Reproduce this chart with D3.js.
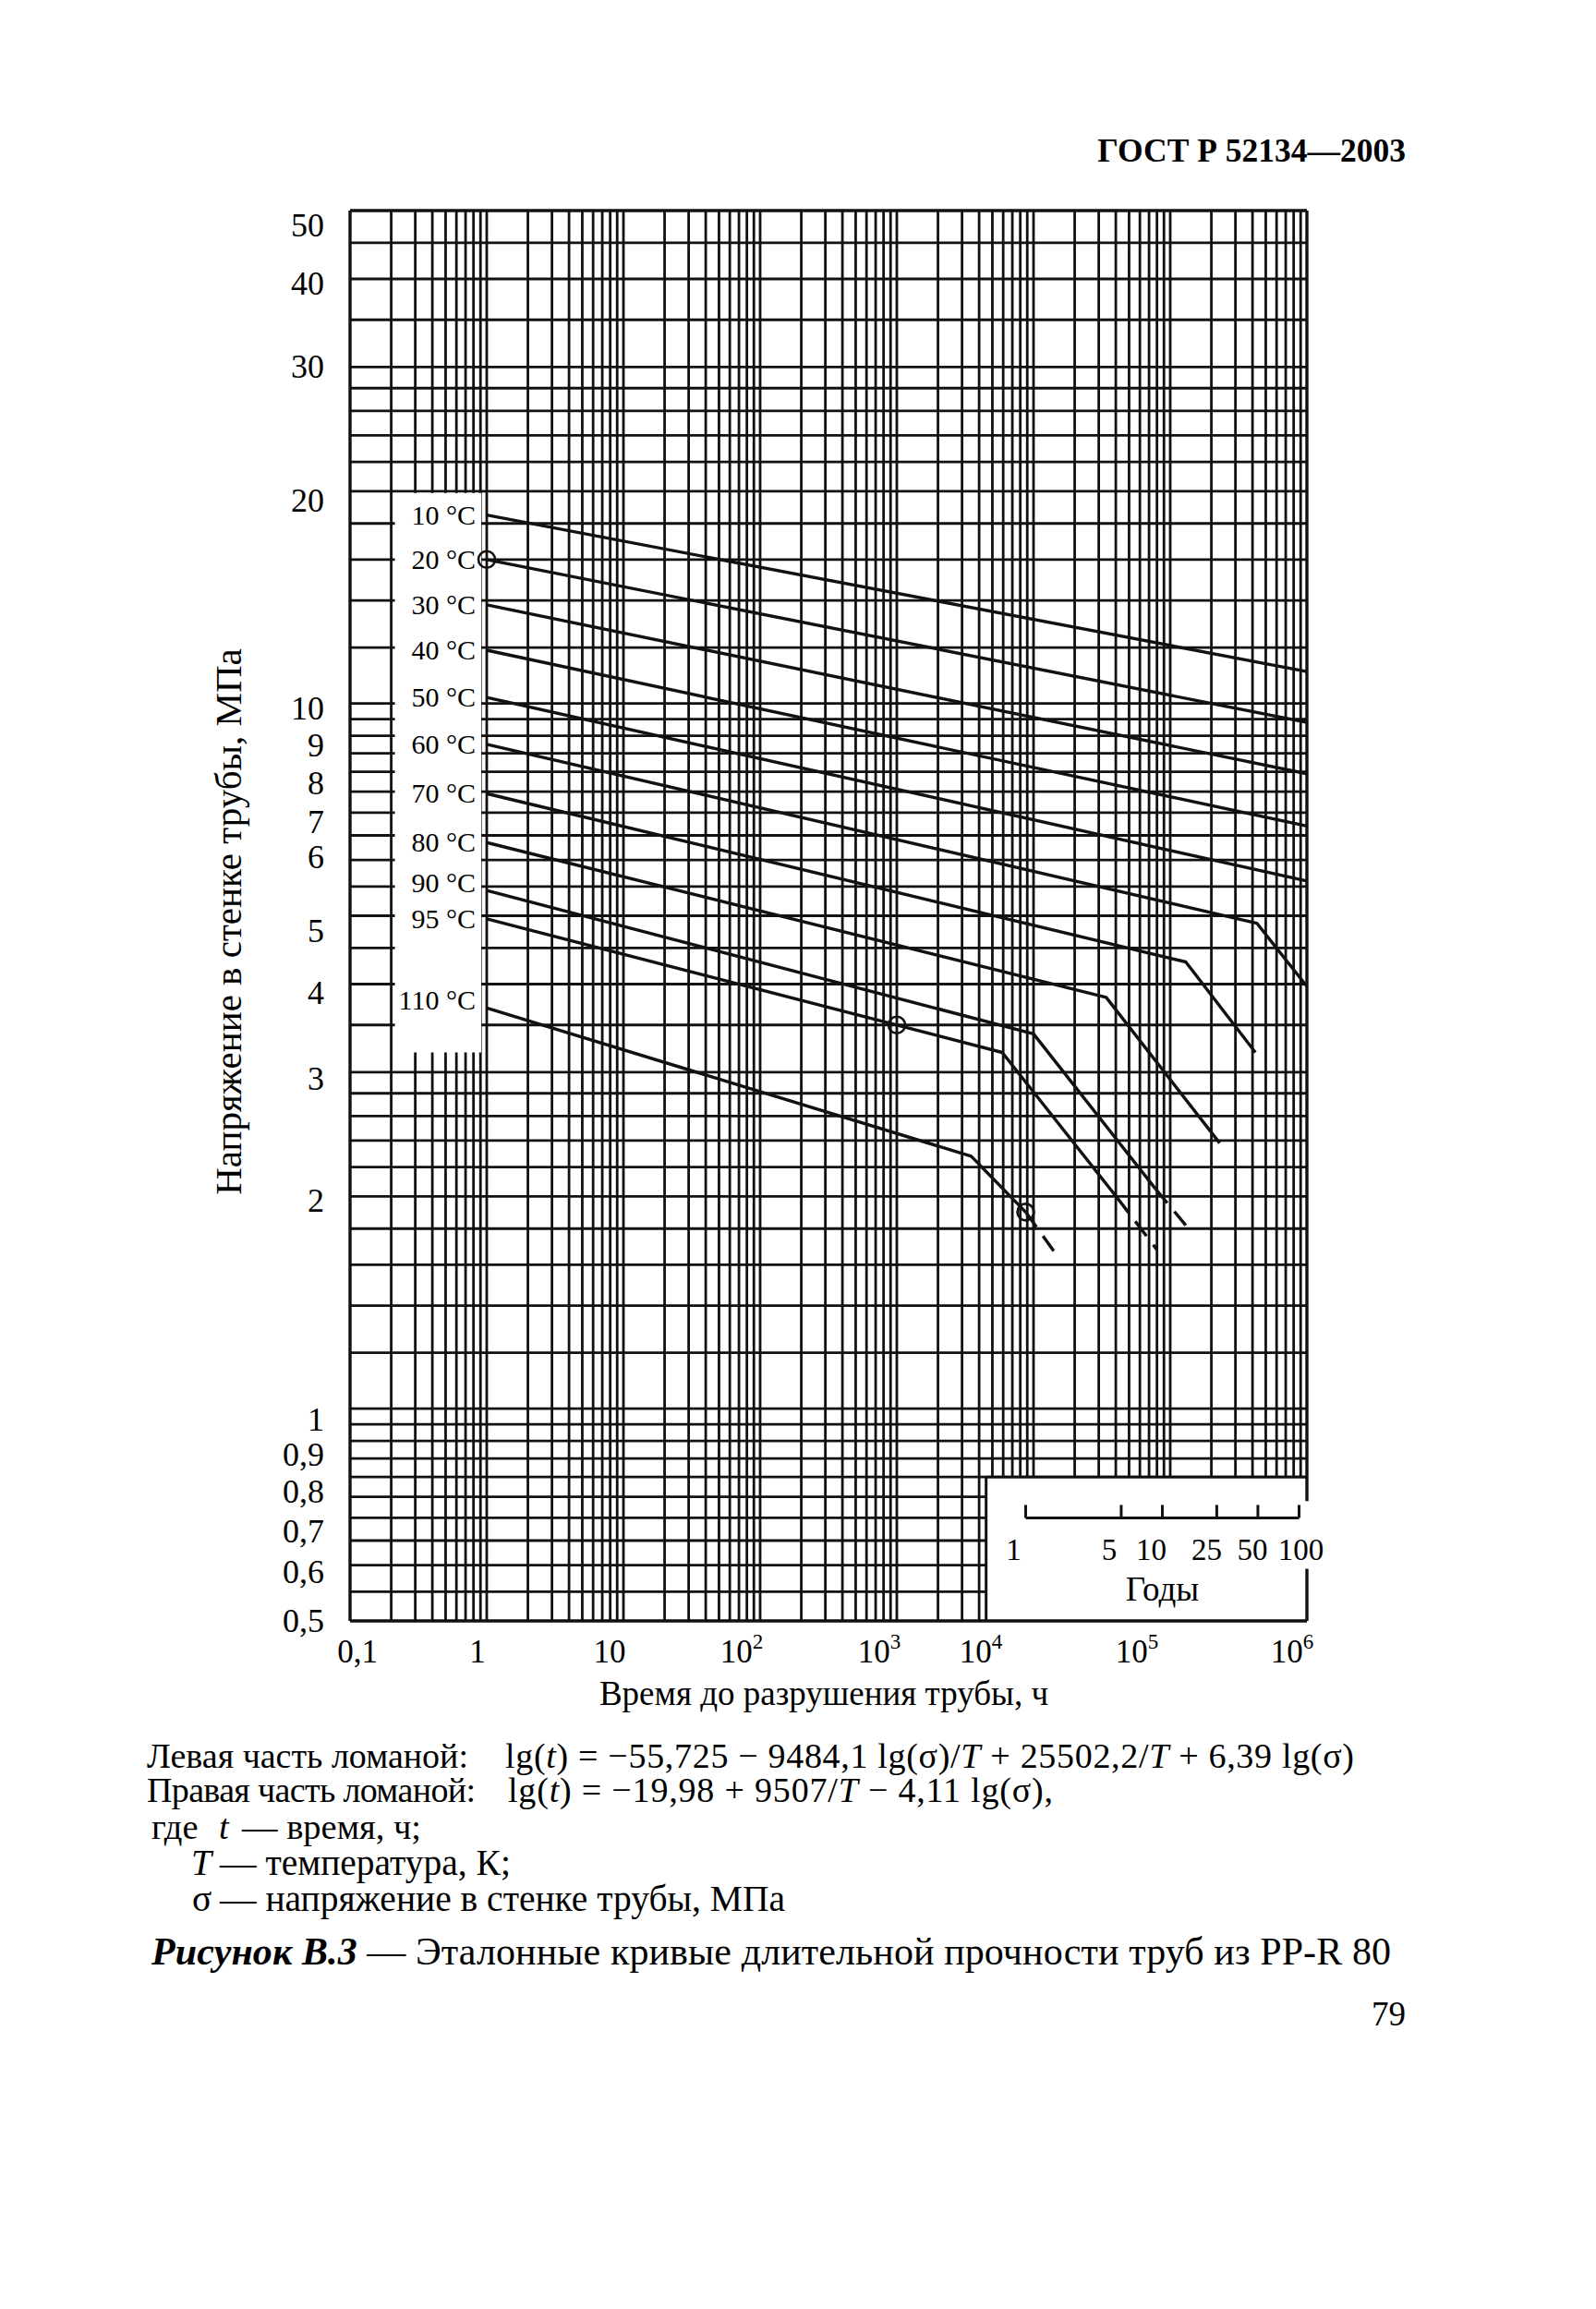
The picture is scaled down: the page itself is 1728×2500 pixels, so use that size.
<!DOCTYPE html>
<html><head><meta charset="utf-8">
<script src="https://cdn.jsdelivr.net/npm/d3@7"></script>
<style>
body{margin:0;background:#fff}
text{font-family:"Liberation Serif","Times New Roman",serif;fill:#000}
</style>
</head><body>
<svg id="chart" width="1728" height="2500"></svg>
<script>
// ---------------- data ----------------
const tempLabels = ["10 °C","20 °C","30 °C","40 °C","50 °C","60 °C","70 °C","80 °C","90 °C","95 °C","110 °C"];
// [time h, stress MPa]
const solid10  = [[1,18.5],[1e6,11.1]];
const solid20  = [[1,16.0],[1e6,9.4]];
const solid30  = [[1,13.8],[1e6,7.95]];
const solid40  = [[1,11.9],[1e6,6.7]];
const solid50  = [[1,10.2],[1e6,5.6]];
const solid60  = [[1,8.75],[4.3e5,4.88],[1e6,3.97]];
const solid70  = [[1,7.45],[1.3e5,4.3],[4.2e5,3.2]];
const solid80  = [[1,6.35],[3.4e4,3.83],[2.3e5,2.38]];
const solid90  = [[1,5.43],[1.0e4,3.4],[7.8e4,2.05]];
const dashed90 = [[7.8e4,2.05],[1.3e5,1.82]];
const solid95  = [[1,4.95],[5.9e3,3.2],[4.1e4,1.99]];
const dashed95 = [[4.1e4,1.99],[8.0e4,1.68]];
const solid110 = [[1,3.7],[3.5e3,2.28],[8760,1.9]];
const dashed110= [[8760,1.9],[1.55e4,1.63]];
const testPoints = [[1,16],[1000,3.5],[8760,1.9]];

const xTicks = [0.1,1,10,100,1e3,1e4,1e5,1e6];
const xTickBase = ["0,1","1","10","10","10","10","10","10"];
const xTickSup  = ["","","","2","3","4","5","6"];
const yTicks = [50,40,30,20,10,9,8,7,6,5,4,3,2,1,0.9,0.8,0.7,0.6,0.5];
const yTickLabels = ["50","40","30","20","10","9","8","7","6","5","4","3","2","1","0,9","0,8","0,7","0,6","0,5"];
const yearTicks = [1,5,10,25,50,100];
const hoursPerYear = 8760;

// ---------------- layout ----------------
const svg = d3.select("#chart");
const x = d3.scaleLog().domain([0.1,1e6]).range([379,1415]);
const y = d3.scaleLog().domain([0.5,50]).range([1755,228]);
const xLabelShift = [8,-10,-15,-20,-19,-57,-36,-16];
const yLabelDy = [28,17,12,22,17,22,24,22,9,28,22,19,17,24,27,28,27,19,12];
const yearLabelShift = [-13,-13,-12,-11,-6,2];
const tempLabelDy = [10,10,10,10,10,10,10,10,2,10,2];
const ink = "#111";
const gridW = 2.8;

// grid
const vGrid = [];
for (let e=-1;e<=5;e++) for (let k=1;k<=9;k++){ const v=k*Math.pow(10,e); if(v>0.1+1e-9) vGrid.push(v);}
const hGrid = [].concat(
  d3.range(0.55,1.0001,0.05), d3.range(1.2,3.0001,0.2), d3.range(3.5,10.0001,0.5),
  d3.range(12,30.001,2), [35,40,45]);

const g = svg.append("g");
g.selectAll("line.v").data(vGrid).join("line")
  .attr("x1",d=>x(d)).attr("x2",d=>x(d)).attr("y1",y(50)).attr("y2",y(0.5))
  .attr("stroke",ink).attr("stroke-width",gridW);
g.selectAll("line.h").data(hGrid).join("line")
  .attr("x1",x(0.1)).attr("x2",x(1e6)).attr("y1",d=>y(d)).attr("y2",d=>y(d))
  .attr("stroke",ink).attr("stroke-width",gridW);

// white box for the temperature labels
svg.append("rect").attr("x",x(0.2)+4).attr("y",y(20)+2)
  .attr("width",x(1)-6-(x(0.2)+4)).attr("height",y(3.2)-y(20)-2).attr("fill","#fff");
// white box for the years scale
svg.append("rect").attr("x",x(4500)).attr("y",y(0.8))
  .attr("width",x(1e6)-x(4500)).attr("height",y(0.5)-y(0.8)).attr("fill","#fff");
svg.append("line").attr("x1",x(4500)).attr("x2",x(4500)).attr("y1",y(0.8)).attr("y2",y(0.5))
  .attr("stroke",ink).attr("stroke-width",3);
svg.append("line").attr("x1",x(4500)).attr("x2",x(1e6)).attr("y1",y(0.8)).attr("y2",y(0.8))
  .attr("stroke",ink).attr("stroke-width",3);

// frame
const fr = svg.append("g").attr("stroke",ink).attr("stroke-width",3.4);
fr.append("line").attr("x1",x(0.1)).attr("x2",x(1e6)).attr("y1",y(50)).attr("y2",y(50));
fr.append("line").attr("x1",x(0.1)).attr("x2",x(1e6)).attr("y1",y(0.5)).attr("y2",y(0.5));
fr.append("line").attr("x1",x(0.1)).attr("x2",x(0.1)).attr("y1",y(50)).attr("y2",y(0.5));
fr.append("line").attr("x1",x(1e6)).attr("x2",x(1e6)).attr("y1",y(50)).attr("y2",y(0.8)+26);
fr.append("line").attr("x1",x(1e6)).attr("x2",x(1e6)).attr("y1",y(0.6)+4).attr("y2",y(0.5));

// years scale
const yearY = y(0.7);
const yr = svg.append("g").attr("stroke",ink).attr("stroke-width",3);
yr.append("line").attr("x1",x(hoursPerYear)).attr("x2",x(100*hoursPerYear)).attr("y1",yearY).attr("y2",yearY);
yr.selectAll("line.t").data(yearTicks).join("line")
  .attr("x1",d=>x(d*hoursPerYear)).attr("x2",d=>x(d*hoursPerYear))
  .attr("y1",yearY).attr("y2",yearY-14);
svg.append("g").selectAll("text").data(yearTicks).join("text")
  .attr("x",(d,i)=>x(d*hoursPerYear)+yearLabelShift[i]).attr("y",yearY+46).attr("text-anchor","middle")
  .attr("font-size",33).text(d=>d);
svg.append("text").attr("x",x(10*hoursPerYear)).attr("y",yearY+90).attr("text-anchor","middle")
  .attr("font-size",37).text("Годы");

// curves
const line = d3.line().x(d=>x(d[0])).y(d=>y(d[1]));
const solids = [solid10,solid20,solid30,solid40,solid50,solid60,solid70,solid80,solid90,solid95,solid110];
const dashes = [dashed90,dashed95,dashed110];
svg.append("g").selectAll("path").data(solids).join("path")
  .attr("d",line).attr("fill","none").attr("stroke",ink).attr("stroke-width",3.4)
  .attr("stroke-linejoin","round");
svg.append("g").selectAll("path").data(dashes).join("path")
  .attr("d",line).attr("fill","none").attr("stroke",ink).attr("stroke-width",3.4)
  .attr("stroke-dasharray","20 12");
svg.append("g").selectAll("circle").data(testPoints).join("circle")
  .attr("cx",d=>x(d[0])).attr("cy",d=>y(d[1])).attr("r",9)
  .attr("fill","none").attr("stroke",ink).attr("stroke-width",2.6);

// temperature labels
svg.append("g").selectAll("text").data(tempLabels).join("text")
  .attr("x",x(1)-12).attr("y",(d,i)=>y(solids[i][0][1])+tempLabelDy[i])
  .attr("text-anchor","end").attr("font-size",30).text(d=>d);

// axis tick labels
svg.append("g").selectAll("text").data(yTicks).join("text")
  .attr("x",351).attr("y",(d,i)=>y(d)+yLabelDy[i])
  .attr("text-anchor","end").attr("font-size",36).text((d,i)=>yTickLabels[i]);
const xt = svg.append("g").selectAll("text").data(xTicks).join("text")
  .attr("x",(d,i)=>x(d)+xLabelShift[i]).attr("y",1800).attr("text-anchor","middle")
  .attr("font-size",35);
xt.append("tspan").text((d,i)=>xTickBase[i]);
xt.append("tspan").attr("dy",-15).attr("font-size",23).text((d,i)=>xTickSup[i]);

// axis titles
svg.append("text").attr("transform","translate(261,998) rotate(-90)")
  .attr("text-anchor","middle").attr("font-size",41).text("Напряжение в стенке трубы, МПа");
svg.append("text").attr("x",892).attr("y",1846).attr("text-anchor","middle")
  .attr("font-size",37).text("Время до разрушения трубы, ч");

// header
svg.append("text").attr("x",1522).attr("y",175).attr("text-anchor","end")
  .attr("font-size",35.5).attr("font-weight","bold").text("ГОСТ Р 52134—2003");

// formulas and caption
const fs = 38;
function addText(xp,yp,parts,len,size){
  const t = svg.append("text").attr("x",xp).attr("y",yp).attr("font-size",size||fs);
  if(len) t.attr("textLength",len).attr("lengthAdjust","spacing");
  parts.forEach(p=>{
    const s = t.append("tspan").text(p[0]);
    if(p[1]==="i") s.attr("font-style","italic");
    if(p[1]==="bi") s.attr("font-style","italic").attr("font-weight","bold");
  });
  return t;
}
addText(159,1914,[["Левая часть ломаной:"]],348);
addText(547,1914,[["lg("],["t","i"],[") = −55,725 − 9484,1 lg(σ)/"],["T","i"],[" + 25502,2/"],["T","i"],[" + 6,39 lg(σ)"]],919);
addText(159,1951,[["Правая часть ломаной:"]],356);
addText(550,1951,[["lg("],["t","i"],[") = −19,98 + 9507/"],["T","i"],[" − 4,11 lg(σ),"]],590);
addText(164,1991,[["где"]],null,38.5);
addText(237,1991,[["t","i"]],null,38.5);
addText(262,1991,[["— время, ч;"]],null,38.5);
addText(207,2030,[["T","i"]],null,39.5);
addText(238,2030,[["— температура, К;"]],null,39.5);
addText(208,2069,[["σ"]],null,39.5);
addText(238,2069,[["— напряжение в стенке трубы, МПа"]],null,39.5);
addText(164,2127,[["Рисунок В.3","bi"],[" — Эталонные кривые длительной прочности труб из PP-R 80"]],1342,42);
svg.append("text").attr("x",1522).attr("y",2193).attr("text-anchor","end").attr("font-size",37).text("79");
</script>
</body></html>
